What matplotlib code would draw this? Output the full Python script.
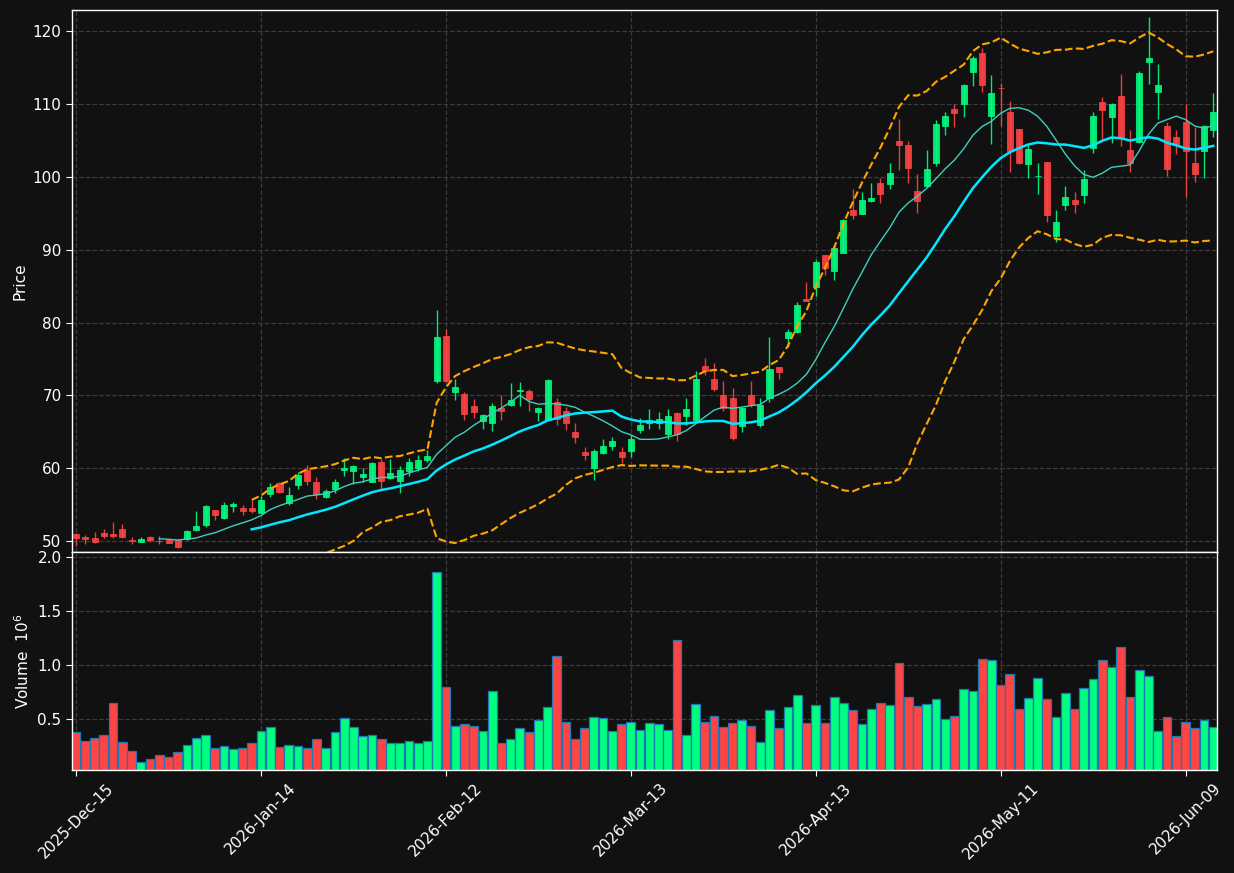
""" Candlestick chart with moving averages, bands and volume """

import numpy as np
import pandas as pd
import matplotlib
matplotlib.use("Agg")
import matplotlib.pyplot as plt

# daily prices, one entry per trading day
opens = [51.0, 50.6, 50.4, 51.15, 51.0, 51.6, 50.15, 49.9, 50.55, 50.05,
         50.2, 50.2, 50.3, 51.5, 52.2, 54.2, 53.1, 54.8, 54.5, 54.6,
         53.9, 56.45, 57.95, 55.2, 57.7, 59.75, 58.05, 56.1, 57.15, 59.75,
         59.65, 58.8, 58.15, 60.85, 58.7, 58.25, 59.6, 60.0, 61.1, 72.0,
         78.15, 70.45, 70.2, 68.5, 66.5, 66.25, 68.2, 68.65, 70.6, 70.6,
         67.75, 66.6, 69.1, 67.85, 64.95, 62.2, 60.0, 62.15, 63.05, 62.2,
         62.4, 65.2, 66.25, 66.15, 64.75, 67.65, 67.15, 66.6, 74.0, 72.25,
         70.05, 69.6, 65.8, 70.05, 65.9, 69.6, 73.9, 77.9, 78.75, 83.2,
         84.9, 89.25, 87.1, 89.55, 95.4, 94.9, 96.75, 99.1, 99.05, 104.9,
         104.35, 98.05, 98.7, 101.9, 106.95, 109.3, 110.0, 114.35, 116.95, 108.4,
         112.25, 108.9, 106.55, 101.8, 100.05, 102.0, 91.9, 96.1, 96.8, 97.5,
         104.0, 110.25, 108.25, 111.1, 103.65, 104.75, 115.8, 111.65, 107.0, 105.5,
         107.55, 101.9, 103.55, 106.4]
highs = [51.1, 50.8, 51.3, 51.6, 52.6, 52.3, 50.6, 50.5, 50.7, 50.7,
         50.3, 50.3, 51.5, 54.1, 55.0, 54.25, 55.3, 55.35, 54.95, 55.7,
         56.2, 58.0, 58.15, 57.4, 59.5, 60.4, 58.8, 57.1, 58.5, 61.35,
         60.4, 60.0, 60.9, 61.2, 61.3, 60.3, 61.4, 61.75, 62.5, 81.7,
         79.05, 72.3, 70.5, 69.45, 67.5, 68.9, 70.05, 71.65, 71.8, 70.85,
         68.4, 72.25, 69.6, 68.45, 66.15, 62.85, 62.6, 64.0, 64.3, 62.85,
         64.55, 66.95, 68.1, 67.75, 68.1, 67.7, 69.6, 73.3, 75.1, 74.4,
         71.95, 70.95, 68.45, 71.95, 69.6, 77.95, 73.95, 79.05, 82.85, 85.5,
         88.6, 89.3, 90.6, 94.15, 98.3, 97.95, 99.2, 99.9, 101.95, 107.9,
         104.95, 100.35, 103.7, 107.75, 108.95, 110.05, 112.75, 116.6, 117.7, 113.95,
         112.85, 110.4, 106.6, 104.35, 101.85, 102.05, 95.45, 98.75, 97.95, 101.0,
         108.95, 111.0, 110.1, 114.1, 106.5, 114.5, 121.9, 115.55, 107.55, 106.4,
         110.05, 106.85, 107.1, 111.45]
lows = [49.3, 49.6, 49.7, 50.4, 50.4, 50.4, 49.6, 49.85, 49.9, 49.6,
        49.75, 49.0, 50.2, 51.4, 52.0, 52.9, 53.0, 54.0, 53.6, 53.9,
        53.8, 56.1, 56.6, 55.0, 57.1, 57.65, 55.8, 55.95, 56.6, 58.9,
        57.8, 58.15, 58.1, 57.2, 58.5, 56.6, 58.95, 59.6, 60.85, 71.7,
        71.85, 69.35, 66.6, 66.95, 65.35, 65.1, 66.6, 68.6, 68.6, 67.9,
        66.5, 66.5, 66.0, 65.3, 63.5, 61.1, 58.4, 62.0, 62.5, 60.75,
        61.6, 64.9, 65.35, 65.45, 63.95, 63.8, 65.9, 66.4, 72.8, 70.6,
        67.9, 63.85, 64.95, 68.35, 65.7, 69.1, 72.2, 76.65, 78.5, 82.9,
        83.6, 86.5, 85.9, 89.5, 94.2, 94.85, 96.55, 96.35, 98.4, 100.9,
        99.1, 95.1, 98.65, 101.5, 105.8, 106.9, 108.15, 112.5, 111.6, 104.45,
        107.0, 100.7, 101.8, 99.85, 97.6, 93.8, 91.0, 95.5, 95.0, 96.35,
        103.3, 105.05, 104.6, 104.25, 100.7, 104.7, 112.75, 107.9, 100.1, 103.1,
        97.2, 99.3, 99.9, 105.5]
closes = [50.4, 50.3, 49.9, 50.75, 50.75, 50.5, 50.05, 50.3, 50.2, 49.95,
          49.8, 49.2, 51.4, 52.05, 54.8, 53.6, 54.95, 55.1, 54.15, 54.15,
          55.7, 57.4, 56.7, 56.3, 59.1, 58.25, 56.4, 56.9, 58.1, 60.0,
          60.3, 59.25, 60.7, 58.3, 59.3, 59.7, 60.85, 61.1, 61.65, 77.95,
          72.0, 71.1, 67.5, 67.7, 67.3, 68.5, 67.9, 69.35, 70.8, 69.5,
          68.25, 72.1, 66.7, 66.15, 64.3, 61.85, 62.35, 63.05, 63.8, 61.6,
          63.95, 65.95, 66.6, 66.75, 67.15, 64.75, 68.1, 72.25, 73.35, 70.85,
          68.2, 64.2, 68.3, 68.8, 68.65, 73.6, 73.25, 78.65, 82.4, 82.95,
          88.3, 87.5, 90.3, 94.05, 94.75, 96.8, 97.1, 97.6, 100.55, 104.35,
          101.25, 96.7, 101.05, 107.25, 108.35, 108.8, 112.6, 116.25, 112.6, 111.5,
          112.15, 103.5, 101.9, 103.8, 100.15, 94.75, 93.8, 97.2, 96.3, 99.7,
          108.35, 109.15, 109.95, 105.3, 101.85, 114.3, 116.3, 112.6, 101.05, 104.5,
          103.55, 100.35, 106.95, 108.9]
# volume in millions
volumes = [0.38, 0.305, 0.333, 0.361, 0.648, 0.296, 0.213, 0.111, 0.139, 0.176,
           0.157, 0.204, 0.268, 0.333, 0.361, 0.241, 0.259, 0.231, 0.241, 0.287,
           0.389, 0.426, 0.25, 0.268, 0.259, 0.241, 0.324, 0.241, 0.38, 0.509,
           0.435, 0.343, 0.352, 0.315, 0.278, 0.278, 0.305, 0.287, 0.305, 1.861,
           0.796, 0.444, 0.454, 0.444, 0.389, 0.759, 0.287, 0.324, 0.417, 0.38,
           0.491, 0.611, 1.083, 0.472, 0.324, 0.417, 0.519, 0.509, 0.389, 0.454,
           0.481, 0.407, 0.463, 0.454, 0.407, 1.231, 0.361, 0.639, 0.481, 0.528,
           0.435, 0.463, 0.491, 0.444, 0.296, 0.583, 0.417, 0.611, 0.722, 0.463,
           0.63, 0.463, 0.704, 0.648, 0.583, 0.454, 0.593, 0.648, 0.63, 1.019,
           0.704, 0.62, 0.639, 0.685, 0.5, 0.528, 0.778, 0.759, 1.056, 1.046,
           0.815, 0.917, 0.593, 0.694, 0.88, 0.685, 0.519, 0.741, 0.593, 0.787,
           0.87, 1.046, 0.981, 1.167, 0.704, 0.954, 0.898, 0.398, 0.519, 0.343,
           0.472, 0.417, 0.491, 0.426]

tick_positions = [0, 20, 40, 60, 80, 100, 120]
tick_labels = ["2025-Dec-15", "2026-Jan-14", "2026-Feb-12", "2026-Mar-13",
               "2026-Apr-13", "2026-May-11", "2026-Jun-09"]

BG = "#111111"
UP = "#00ff80"
DOWN = "#ff4444"
GRID = "#3c3c3c"

o = np.array(opens)
h = np.array(highs)
l = np.array(lows)
c = np.array(closes)
v = np.array(volumes)
x = np.arange(len(c))
up = c >= o
colors = np.where(up, UP, DOWN)

# moving averages and 20 day bands
cs = pd.Series(c)
mav10 = cs.rolling(10).mean()
mav20 = cs.rolling(20).mean()
std20 = cs.rolling(20).std()
band_hi = mav20 + 2 * std20
band_lo = mav20 - 2 * std20

fig = plt.figure(figsize=(12.34, 8.73), dpi=100, facecolor=BG)
ax = fig.add_axes([0.0583, 0.3677, 0.9279, 0.6208], facecolor=BG)
axv = fig.add_axes([0.0583, 0.118, 0.9279, 0.2497], facecolor=BG, sharex=ax)

# candles: wicks then bodies
ax.vlines(x, l, h, colors=colors, linewidth=1, alpha=0.9, zorder=2)
body_lo = np.minimum(o, c)
body_h = np.maximum(np.abs(c - o), 0.05)
ax.bar(x, body_h, bottom=body_lo, width=0.65, color=colors,
       edgecolor=colors, linewidth=0.6, alpha=0.9, zorder=3)

ax.plot(x, mav10, color="#3fcfc0", linewidth=1, zorder=4)
ax.plot(x, mav20, color="#00e8ff", linewidth=1.8, zorder=4)
ax.plot(x, band_hi, color="#ffa500", linewidth=1.5, linestyle="--", zorder=4)
ax.plot(x, band_lo, color="#ffa500", linewidth=1.5, linestyle="--", zorder=4)

ax.set_ylim(48.5, 122.9)
ax.set_yticks([50, 60, 70, 80, 90, 100, 110, 120])
ax.set_ylabel("Price", color="white", fontsize=11)
ax.set_xlim(-0.45, 123.4)

# volume bars
axv.bar(x, v, width=0.95, color=colors, edgecolor="#1f77b4", linewidth=0.9)
axv.set_ylim(0.3 * v.min(), 1.1 * v.max())
axv.set_yticks([0.5, 1.0, 1.5, 2.0])
axv.set_ylabel("Volume  $10^{6}$", color="white", fontsize=11)
axv.set_xticks(tick_positions)
axv.set_xticklabels(tick_labels, rotation=45, ha="center")

for a in (ax, axv):
    a.grid(True, color=GRID, linestyle="--", linewidth=0.9)
    a.set_axisbelow(True)
    for s in a.spines.values():
        s.set_color("white")
        s.set_linewidth(1)
    a.tick_params(colors="white", labelsize=11, length=4)
ax.tick_params(axis="x", bottom=False, labelbottom=False)

fig.savefig("out.png", dpi=100, facecolor=BG)
